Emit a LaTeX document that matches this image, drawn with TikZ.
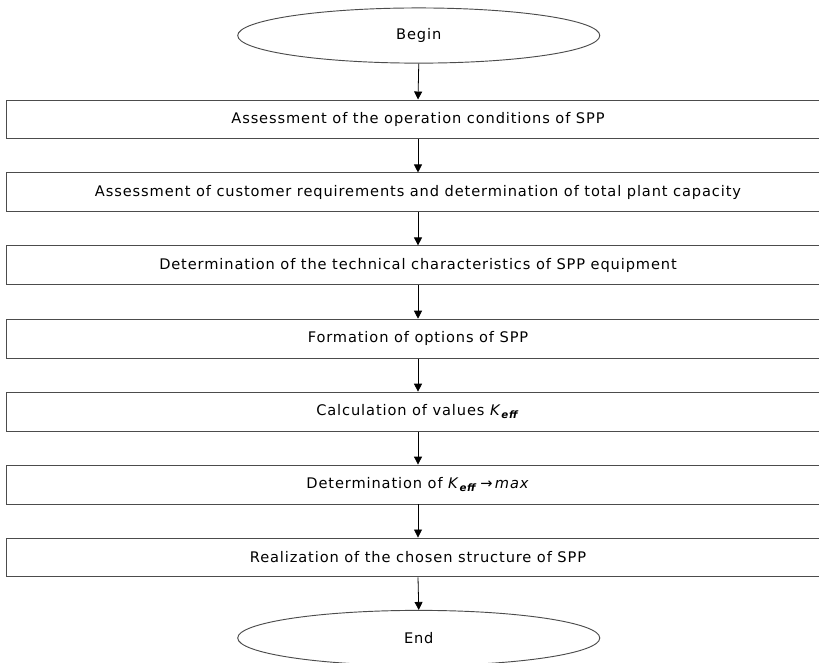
\documentclass[tikz,border=0pt]{standalone}
\usepackage{fontspec}
\setmainfont[LetterSpace=6]{DejaVu Sans}
\usetikzlibrary{arrows.meta, shapes.geometric}

\begin{document}
\begin{tikzpicture}[
    x=1cm, y=1cm,
    every node/.style={font=\fontsize{11}{13}\selectfont, align=center, text=black},
    arr/.style={-{Triangle[length=6pt, width=6pt]}, line width=0.6pt, draw=black},
    stepcard/.style={
      rectangle, draw=black!70, line width=0.7pt,
      fill=white, minimum width=21.8cm,
      minimum height=1.03cm, inner sep=2pt
    },
    terminal/.style={
      ellipse, draw=black!70, line width=0.7pt,
      fill=white, minimum width=9.58cm,
      minimum height=1.46cm, inner sep=0pt
    }
  ]

    \useasboundingbox (0,0) rectangle (21.67,-17.54);

    % Start
    \node[terminal] (begin) at (11.08,-0.94) {Begin};

    % Steps
    \node[stepcard] (cond) at (11.06,-3.16)
      {Assessment of the operation conditions of SPP};
    \node[stepcard] (capacity) at (11.06,-5.09)
      {Assessment of customer requirements and determination of total plant capacity};
    \node[stepcard] (equip) at (11.06,-7.02)
      {Determination of the technical characteristics of SPP equipment};
    \node[stepcard] (options) at (11.06,-8.96)
      {Formation of options of SPP};
    \node[stepcard] (calc) at (11.06,-10.89)
      {Calculation of values \textit{K}\textsubscript{\textbf{\textit{eff}}}};
    \node[stepcard] (maxk) at (11.06,-12.82)
      {Determination of \textit{K}\textsubscript{\textbf{\textit{eff}}}\,→\,\textit{max}};
    \node[stepcard] (real) at (11.06,-14.75)
      {Realization of the chosen structure of SPP};

    % Finish
    \node[terminal] (end) at (11.08,-16.88) {End};

    \draw[arr] (begin.south) -- (cond.north);
    \draw[arr] (cond.south) -- (capacity.north);
    \draw[arr] (capacity.south) -- (equip.north);
    \draw[arr] (equip.south) -- (options.north);
    \draw[arr] (options.south) -- (calc.north);
    \draw[arr] (calc.south) -- (maxk.north);
    \draw[arr] (maxk.south) -- (real.north);
    \draw[arr] (real.south) -- (end.north);

\end{tikzpicture}
\end{document}
